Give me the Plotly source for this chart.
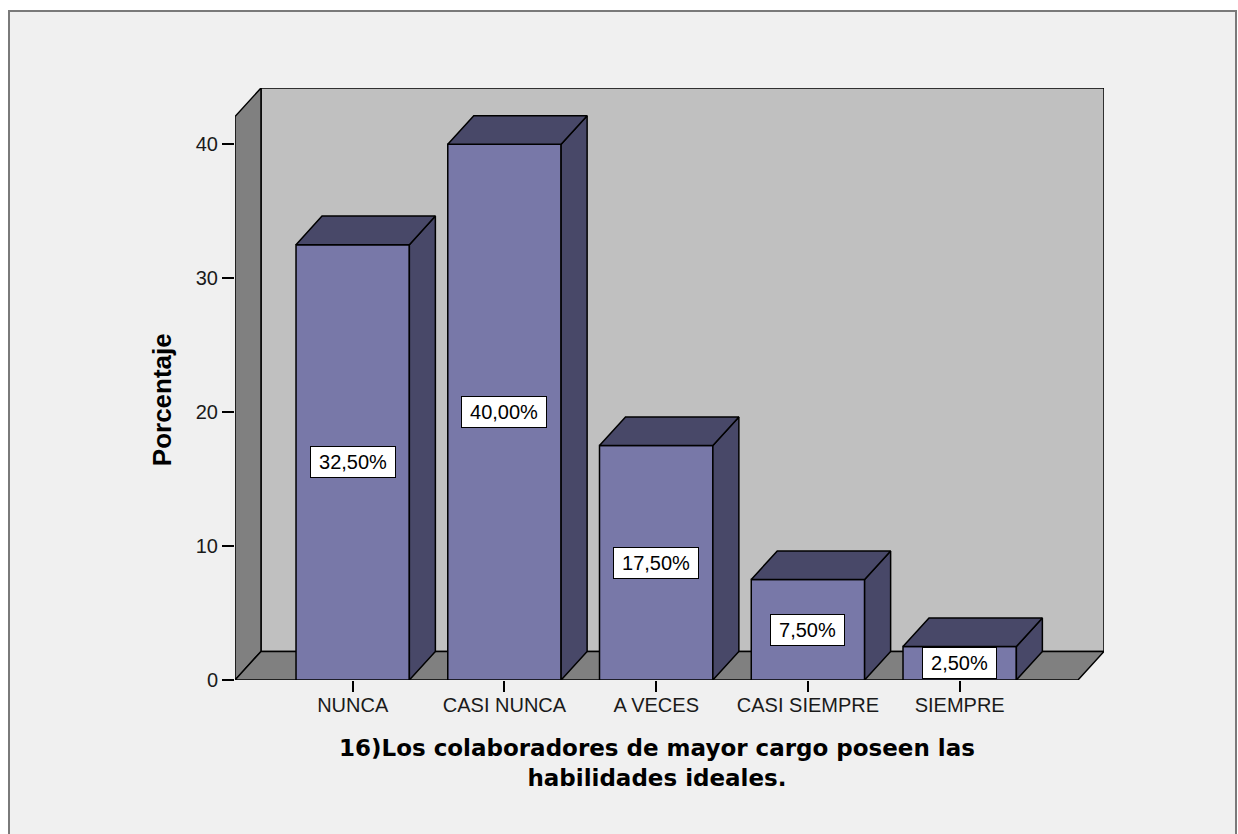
import plotly.graph_objects as go

# ---- data ----
categories = ["NUNCA", "CASI NUNCA", "A VECES", "CASI SIEMPRE", "SIEMPRE"]
percentages = [32.5, 40.0, 17.5, 7.5, 2.5]
y_ticks = [0, 10, 20, 30, 40]
x_title_line1 = "16)Los colaboradores de mayor cargo poseen las"
x_title_line2 = "habilidades ideales."
y_title = "Porcentaje"

# ---- layout constants (pixels -> data) ----
W, H = 1238, 834
ML, MR, MT, MB = 235, 134, 88, 154
x_min, x_max = -0.7756, 4.951
y_min, y_max = 0, 44.2
px_per_x = (W - ML - MR) / (x_max - x_min)
px_per_y = (H - MT - MB) / (y_max - y_min)
DX = 26 / px_per_x        # depth offset in x units
DY = 28.6 / px_per_y      # depth offset in y units
BW = 0.747                # bar width in category units

FRONT = "#7878a8"
DARK = "#484868"
WALL = "#c0c0c0"
SIDE_WALL = "#808080"
BG = "#f0f0f0"

xs = list(range(len(categories)))

fig = go.Figure()

# front faces
fig.add_trace(go.Bar(
    x=xs, y=percentages, width=BW,
    marker=dict(color=FRONT, line=dict(color="black", width=1.5)),
    hoverinfo="skip", showlegend=False,
))

# top faces and right side faces (polygons derived from the data)
top_x, top_y, side_x, side_y = [], [], [], []
for x, v in zip(xs, percentages):
    l, r = x - BW / 2, x + BW / 2
    top_x += [l, l + DX, r + DX, r, l, None]
    top_y += [v, v + DY, v + DY, v, v, None]
    side_x += [r, r + DX, r + DX, r, r, None]
    side_y += [0, DY, v + DY, v, 0, None]

fig.add_trace(go.Scatter(x=side_x, y=side_y, mode="lines", fill="toself",
                         fillcolor=DARK, line=dict(color="black", width=1.5),
                         hoverinfo="skip", showlegend=False))
fig.add_trace(go.Scatter(x=top_x, y=top_y, mode="lines", fill="toself",
                         fillcolor=DARK, line=dict(color="black", width=1.5),
                         hoverinfo="skip", showlegend=False))

shapes = []


def px2paper_x(px):
    return (px - ML) / (W - ML - MR)


def px2paper_y(py):
    return (H - MB - py) / (H - MT - MB)


# outer frame
shapes.append(dict(type="rect", xref="paper", yref="paper",
                   x0=px2paper_x(9), x1=px2paper_x(1236),
                   y0=px2paper_y(850), y1=px2paper_y(11),
                   fillcolor=BG, line=dict(color="#7a7a7a", width=2),
                   layer="below"))

bx0 = x_min + DX
# back wall
shapes.append(dict(type="path", xref="x", yref="y", layer="below",
                   path=f"M{bx0},{DY} L{x_max},{DY} L{x_max},{y_max} L{bx0},{y_max} Z",
                   fillcolor=WALL, line=dict(color="black", width=1.5)))
# left wall
shapes.append(dict(type="path", xref="x", yref="y", layer="below",
                   path=f"M{x_min},0 L{bx0},{DY} L{bx0},{y_max} L{x_min},{y_max - DY} Z",
                   fillcolor=SIDE_WALL, line=dict(color="black", width=1.5)))
# floor
shapes.append(dict(type="path", xref="x", yref="y", layer="below",
                   path=f"M{x_min},0 L{x_max - DX},0 L{x_max},{DY} L{bx0},{DY} Z",
                   fillcolor=SIDE_WALL, line=dict(color="black", width=1.5)))

annotations = []
for x, v in zip(xs, percentages):
    txt = f"{v:.2f}".replace(".", ",") + "%"
    annotations.append(dict(
        x=x, y=v / 2, xref="x", yref="y", text="\u2009" + txt + "\u2009",
        showarrow=False, bgcolor="white", bordercolor="black", borderwidth=1,
        borderpad=4, font=dict(family="Liberation Sans, Arial", size=20, color="black"),
    ))

annotations.append(dict(
    x=px2paper_x(161.5), y=px2paper_y(399.7), xref="paper", yref="paper",
    text=f"<b>{y_title}</b>", textangle=-90, showarrow=False,
    font=dict(family="Liberation Sans, Arial", size=26, color="black"),
    xanchor="center", yanchor="middle",
))
annotations.append(dict(
    x=px2paper_x(656.5), y=px2paper_y(763), xref="paper", yref="paper",
    text=f"<b>{x_title_line1}</b><br><b>{x_title_line2}</b>", showarrow=False,
    font=dict(family="DejaVu Sans", size=23, color="black"),
    xanchor="center", yanchor="middle", align="center",
))

fig.update_layout(
    width=W, height=H, autosize=False,
    margin=dict(l=ML, r=MR, t=MT, b=MB, pad=0),
    paper_bgcolor="white", plot_bgcolor="rgba(0,0,0,0)",
    shapes=shapes, annotations=annotations,
    showlegend=False, hovermode=False,
    xaxis=dict(range=[x_min, x_max], tickmode="array", tickvals=xs, ticktext=categories,
               ticks="outside", ticklen=11, tickwidth=1.5, tickcolor="black",
               ticklabelstandoff=-4,
               showgrid=False, zeroline=False, showline=False, fixedrange=True,
               tickfont=dict(family="Liberation Sans, Arial", size=20, color="#1a1a1a")),
    yaxis=dict(range=[y_min, y_max], tickmode="array", tickvals=y_ticks,
               ticks="outside", ticklen=12, tickwidth=1.5, tickcolor="black",
               showgrid=False, zeroline=False, showline=False, fixedrange=True,
               tickfont=dict(family="Liberation Sans, Arial", size=20, color="#1a1a1a")),
)

fig.write_html("out.html", config={"displayModeBar": False},
               post_script="document.body.style.margin='0';document.documentElement.style.overflow='hidden';")
